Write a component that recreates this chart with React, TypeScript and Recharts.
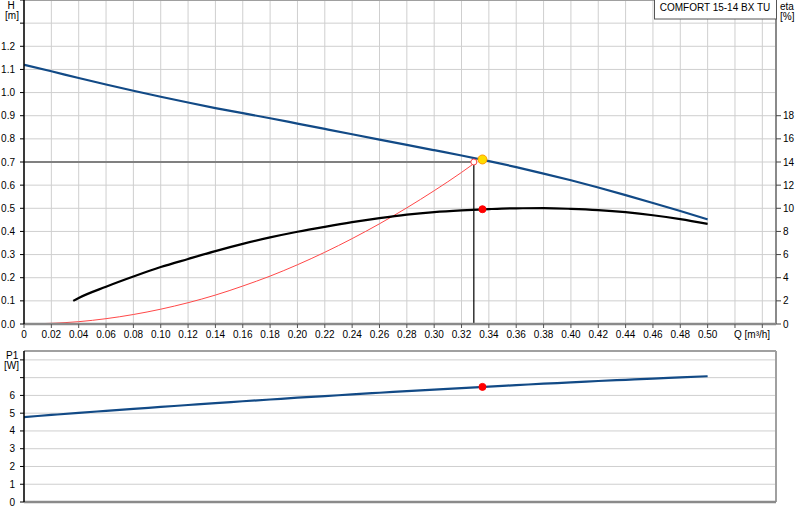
import React from 'react';
import {
  ComposedChart,
  Line,
  XAxis,
  YAxis,
  CartesianGrid,
  ReferenceDot,
  ReferenceLine,
} from 'recharts';

const FONT = "'Liberation Sans', Arial, Helvetica, sans-serif";

// Flow axis ticks (m³/h)
const qTicks = [0, 0.02, 0.04, 0.06, 0.08, 0.1, 0.12, 0.14, 0.16, 0.18, 0.2, 0.22, 0.24, 0.26, 0.28, 0.3, 0.32, 0.34, 0.36, 0.38, 0.4, 0.42, 0.44, 0.46, 0.48, 0.5, 0.52, 0.54];
const hTicks = [0, 0.1, 0.2, 0.3, 0.4, 0.5, 0.6, 0.7, 0.8, 0.9, 1.0, 1.1, 1.2, 1.3, 1.4];
const etaTicks = [0, 2, 4, 6, 8, 10, 12, 14, 16, 18];
const pTicks = [0, 1, 2, 3, 4, 5, 6, 7, 8];

// Pump curve H(Q) and power P1(Q)
const qValues = [0, 0.02, 0.04, 0.06, 0.08, 0.1, 0.12, 0.14, 0.16, 0.18, 0.2, 0.22, 0.24, 0.26, 0.28, 0.3, 0.32, 0.34, 0.36, 0.38, 0.4, 0.42, 0.44, 0.46, 0.48, 0.5];
const headValues = [1.12, 1.092, 1.063, 1.035, 1.008, 0.982, 0.957, 0.933, 0.911, 0.889, 0.866, 0.843, 0.82, 0.797, 0.774, 0.751, 0.728, 0.704, 0.678, 0.65, 0.621, 0.59, 0.557, 0.523, 0.488, 0.452];
const powerValues = [4.78, 4.9, 5.02, 5.13, 5.24, 5.35, 5.46, 5.57, 5.67, 5.77, 5.87, 5.96, 6.06, 6.15, 6.24, 6.33, 6.41, 6.5, 6.58, 6.66, 6.73, 6.81, 6.88, 6.95, 7.01, 7.08];

// Efficiency curve eta(Q)
const etaQ = [0.036, 0.04, 0.06, 0.08, 0.1, 0.12, 0.14, 0.16, 0.18, 0.2, 0.22, 0.24, 0.26, 0.28, 0.3, 0.32, 0.34, 0.36, 0.38, 0.4, 0.42, 0.44, 0.46, 0.48, 0.5];
const etaValues = [2.0, 2.25, 3.22, 4.1, 4.92, 5.62, 6.3, 6.92, 7.48, 7.97, 8.4, 8.8, 9.15, 9.45, 9.67, 9.82, 9.93, 10.0, 10.01, 9.95, 9.84, 9.66, 9.4, 9.06, 8.65];

// System curve
const systemQ = [0, 0.02, 0.04, 0.06, 0.08, 0.1, 0.12, 0.14, 0.16, 0.18, 0.2, 0.22, 0.24, 0.26, 0.28, 0.3, 0.32, 0.329];
const systemH = [0, 0.003, 0.01, 0.023, 0.041, 0.064, 0.092, 0.125, 0.164, 0.207, 0.256, 0.31, 0.369, 0.433, 0.502, 0.576, 0.655, 0.693];

// Duty point (requested) and operating point
const dutyQ = [0, 0.329];
const dutyH = [0.7, 0.7];
const opQ = 0.3353;
const opH = 0.711;
const opEta = 9.92;
const opP1 = 6.48;

const headData = qValues.map((q, i) => ({ q, h: headValues[i] }));
const powerData = qValues.map((q, i) => ({ q, p: powerValues[i] }));
const etaData = etaQ.map((q, i) => ({ q, eta: etaValues[i] }));
const systemData = systemQ.map((q, i) => ({ q, h: systemH[i] }));
const dutyHorizontal = dutyQ.map((q, i) => ({ q, h: dutyH[i] }));
const dutyVertical = [
  { q: dutyQ[1], h: 0 },
  { q: dutyQ[1], h: dutyH[1] },
];

const BLUE = '#124a86';
const GRID = '#cfcfcf';
const AXIS_GRAY = '#8a8a8a';

const XTick = (props: any) => {
  const { x, y, payload } = props;
  const v = payload.value as number;
  if (Math.abs(v - 0.52) < 1e-6) {
    return (
      <text x={x - 1} y={y} dy="0.71em" textAnchor="start" fontSize={10} fill="#000" fontFamily={FONT}>
        Q [m³/h]
      </text>
    );
  }
  if (v > 0.505) return <g />;
  const label = v === 0 ? '0' : v.toFixed(2);
  return (
    <text x={x} y={y} dy="0.71em" textAnchor="middle" fontSize={10} fill="#000" fontFamily={FONT}>
      {label}
    </text>
  );
};

const tickStyle = { fontSize: 10, fill: '#000', fontFamily: FONT };

export default function App() {
  return (
    <div style={{ position: 'absolute', left: 0, top: 0, width: 800, height: 520, background: '#fff', fontFamily: FONT }}>
      <div style={{ position: 'absolute', left: 0, top: 0 }}>
        <ComposedChart width={800} height={340} margin={{ top: 0, right: 0, bottom: 0, left: 0 }}>
          <CartesianGrid yAxisId="h" stroke={GRID} strokeWidth={1} />
          <XAxis
            type="number"
            dataKey="q"
            domain={[0, 0.55]}
            ticks={qTicks}
            interval={0}
            allowDataOverflow
            height={16}
            tickSize={4}
            tickMargin={3}
            tick={<XTick />}
            axisLine={{ stroke: AXIS_GRAY, strokeWidth: 2.5 }}
            tickLine={{ stroke: '#555' }}
          />
          <YAxis
            yAxisId="h"
            orientation="left"
            type="number"
            domain={[0, 1.4]}
            ticks={hTicks}
            interval={0}
            allowDataOverflow
            width={24}
            tickSize={4}
            tickMargin={5}
            tick={tickStyle}
            tickFormatter={(v: number) => (v > 1.25 ? '' : v.toFixed(1))}
            axisLine={{ stroke: '#000', strokeWidth: 1.5 }}
            tickLine={{ stroke: '#000' }}
          />
          <YAxis
            yAxisId="eta"
            orientation="right"
            type="number"
            domain={[0, 28]}
            ticks={etaTicks}
            interval={0}
            allowDataOverflow
            width={24}
            tickSize={5}
            tickMargin={2}
            tick={tickStyle}
            axisLine={{ stroke: AXIS_GRAY, strokeWidth: 2 }}
            tickLine={{ stroke: '#444' }}
          />
          <ReferenceLine yAxisId="h" y={1.4} stroke="#a0a0a0" strokeWidth={2} />
          <Line
            yAxisId="h"
            data={dutyHorizontal}
            dataKey="h"
            type="linear"
            stroke="#808080"
            strokeWidth={2}
            dot={false}
            activeDot={false}
            isAnimationActive={false}
          />
          <Line
            yAxisId="h"
            data={dutyVertical}
            dataKey="h"
            type="linear"
            stroke="#000"
            strokeWidth={1.2}
            dot={false}
            activeDot={false}
            isAnimationActive={false}
          />
          <Line
            yAxisId="h"
            data={systemData}
            dataKey="h"
            type="monotone"
            stroke="#ff4848"
            strokeWidth={1}
            dot={false}
            activeDot={false}
            isAnimationActive={false}
          />
          <Line
            yAxisId="eta"
            data={etaData}
            dataKey="eta"
            type="monotone"
            stroke="#000"
            strokeWidth={2.2}
            dot={false}
            activeDot={false}
            isAnimationActive={false}
          />
          <Line
            yAxisId="h"
            data={headData}
            dataKey="h"
            type="monotone"
            stroke={BLUE}
            strokeWidth={2.2}
            dot={false}
            activeDot={false}
            isAnimationActive={false}
          />
          <ReferenceDot yAxisId="h" x={dutyQ[1]} y={dutyH[1]} r={3} fill="#fff" stroke="#ff4848" strokeWidth={1} />
          <ReferenceDot yAxisId="eta" x={opQ} y={opEta} r={3.5} fill="#ff0000" stroke="#ff0000" />
          <ReferenceDot yAxisId="h" x={opQ} y={opH} r={4.5} fill="#ffdc00" stroke="#ff9a00" strokeWidth={1} />
        </ComposedChart>
      </div>
      <div style={{ position: 'absolute', left: 0, top: 340 }}>
        <ComposedChart width={800} height={180} margin={{ top: 11, right: 24, bottom: 0, left: 0 }}>
          <CartesianGrid yAxisId="p" stroke={GRID} strokeWidth={1} />
          <XAxis
            type="number"
            dataKey="q"
            domain={[0, 0.55]}
            ticks={qTicks}
            interval={0}
            allowDataOverflow
            height={18}
            tick={false}
            tickLine={false}
            axisLine={{ stroke: AXIS_GRAY, strokeWidth: 2.5 }}
          />
          <YAxis
            yAxisId="p"
            orientation="left"
            type="number"
            domain={[0, 8.5]}
            ticks={pTicks}
            interval={0}
            allowDataOverflow
            width={24}
            tickSize={4}
            tickMargin={5}
            tick={tickStyle}
            tickFormatter={(v: number) => (v > 6.5 ? '' : String(v))}
            axisLine={{ stroke: '#000', strokeWidth: 1.5 }}
            tickLine={{ stroke: '#000' }}
          />
          <ReferenceLine yAxisId="p" y={8.5} stroke="#a0a0a0" strokeWidth={2} />
          <ReferenceLine yAxisId="p" x={0.55} stroke="#a0a0a0" strokeWidth={2} />
          <Line
            yAxisId="p"
            data={powerData}
            dataKey="p"
            type="monotone"
            stroke={BLUE}
            strokeWidth={2.2}
            dot={false}
            activeDot={false}
            isAnimationActive={false}
          />
          <ReferenceDot yAxisId="p" x={opQ} y={opP1} r={3.5} fill="#ff0000" stroke="#ff0000" />
        </ComposedChart>
      </div>
      <svg
        width={800}
        height={520}
        style={{ position: 'absolute', left: 0, top: 0, pointerEvents: 'none' }}
        fontFamily={FONT}
        fontSize={10}
      >
        <text x={11} y={9} textAnchor="middle" fill="#000">H</text>
        <text x={12} y={19} textAnchor="middle" fill="#000">[m]</text>
        <text x={780} y={10} textAnchor="start" fill="#000">eta</text>
        <text x={780} y={20} textAnchor="start" fill="#000">[%]</text>
        <text x={6} y={359} textAnchor="start" fill="#000">P1</text>
        <text x={4} y={369} textAnchor="start" fill="#000">[W]</text>
        <rect x={654.5} y={-0.5} width={122} height={19.5} fill="#fff" stroke="#555" strokeWidth={1} />
        <text x={715} y={11} textAnchor="middle" fill="#000">COMFORT 15-14 BX TU</text>
      </svg>
    </div>
  );
}
